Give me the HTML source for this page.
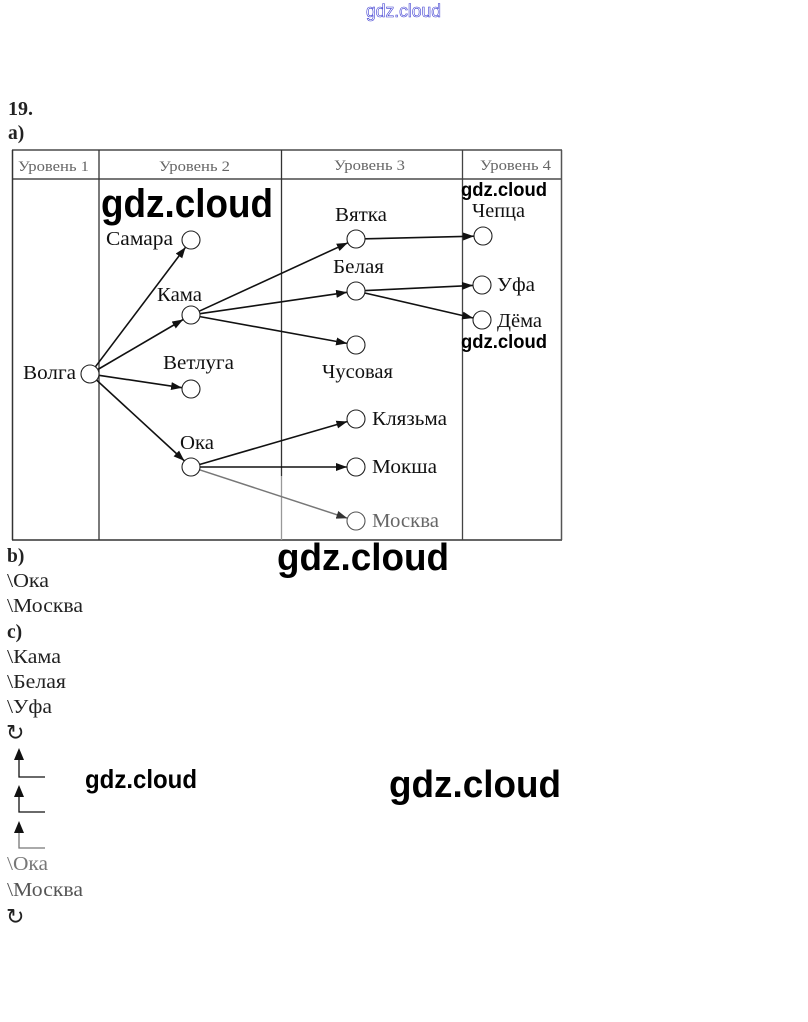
<!DOCTYPE html>
<html><head><meta charset="utf-8"><style>
html,body{margin:0;padding:0;background:#fff;}
svg{display:block;}
.lbl{font-family:"Liberation Serif","DejaVu Serif",serif;font-size:19.5px;fill:#111;}
.hdr{font-family:"Liberation Serif","DejaVu Serif",serif;font-size:15px;fill:#666;}
.wm{font-family:"Liberation Sans","DejaVu Sans",sans-serif;font-weight:bold;fill:#000;}
.txt{font-family:"Liberation Serif","DejaVu Serif",serif;font-size:19.5px;fill:#222;}
.b{font-weight:bold;}
</style></head><body>
<svg width="808" height="1022" viewBox="0 0 808 1022" xmlns="http://www.w3.org/2000/svg">
<defs>
<marker id="ah" markerUnits="userSpaceOnUse" markerWidth="11" markerHeight="8" refX="11" refY="4" orient="auto">
<path d="M0,0 L11,4 L0,8 z" fill="#111"/>
</marker>
<marker id="ahg" markerUnits="userSpaceOnUse" markerWidth="11" markerHeight="8" refX="11" refY="4" orient="auto">
<path d="M0,0 L11,4 L0,8 z" fill="#333"/>
</marker>
</defs>
<rect width="808" height="1022" fill="#fff"/>

<!-- top watermark -->
<text x="366" y="17" font-family="Liberation Sans, DejaVu Sans, sans-serif" font-size="18" fill="#fff" stroke="#3a3ad0" stroke-width="0.6" textLength="75" lengthAdjust="spacingAndGlyphs">gdz.cloud</text>

<!-- heading -->
<text x="8" y="115" class="txt b" font-size="20" textLength="25" lengthAdjust="spacingAndGlyphs">19.</text>
<text x="8" y="139" class="txt b" font-size="20">a)</text>

<!-- table -->
<g fill="none">
<line x1="12" y1="150" x2="562" y2="150" stroke="#777" stroke-width="2"/>
<line x1="12" y1="179" x2="562" y2="179" stroke="#777" stroke-width="2"/>
<line x1="12" y1="540" x2="562" y2="540" stroke="#666" stroke-width="2"/>
<line x1="12.5" y1="150" x2="12.5" y2="540" stroke="#333" stroke-width="1.5"/>
<line x1="99" y1="150" x2="99" y2="540" stroke="#333" stroke-width="1.3"/>
<line x1="281.5" y1="150" x2="281.5" y2="476" stroke="#333" stroke-width="1.3"/>
<line x1="281.5" y1="476" x2="281.5" y2="540" stroke="#999" stroke-width="1.3"/>
<line x1="462.5" y1="150" x2="462.5" y2="540" stroke="#444" stroke-width="1.3"/>
<line x1="561.5" y1="150" x2="561.5" y2="540" stroke="#555" stroke-width="1.5"/>
</g>
<text x="18" y="171" class="hdr" textLength="71" lengthAdjust="spacingAndGlyphs">Уровень 1</text>
<text x="159" y="171" class="hdr" textLength="71" lengthAdjust="spacingAndGlyphs">Уровень 2</text>
<text x="334" y="170" class="hdr" textLength="71" lengthAdjust="spacingAndGlyphs">Уровень 3</text>
<text x="480" y="170" class="hdr" textLength="71" lengthAdjust="spacingAndGlyphs">Уровень 4</text>

<!-- edges -->
<g stroke="#111" stroke-width="1.6" marker-end="url(#ah)">
<line x1="95.4" y1="366.8" x2="185.6" y2="247.2"/>
<line x1="97.8" y1="369.5" x2="183.2" y2="319.5"/>
<line x1="98.9" y1="375.3" x2="182.1" y2="387.7"/>
<line x1="96.6" y1="380.1" x2="184.4" y2="460.9"/>
<line x1="199.2" y1="311.2" x2="347.8" y2="242.8"/>
<line x1="199.9" y1="313.7" x2="347.1" y2="292.3"/>
<line x1="199.9" y1="316.6" x2="347.1" y2="343.4"/>
<line x1="199.6" y1="464.5" x2="347.4" y2="421.5"/>
<line x1="200" y1="467" x2="347" y2="467"/>
<line x1="365" y1="238.8" x2="474" y2="236.2"/>
<line x1="365" y1="290.6" x2="473" y2="285.4"/>
<line x1="364.8" y1="293" x2="473.2" y2="318"/>
</g>
<line x1="199.6" y1="469.8" x2="347.4" y2="518.2" stroke="#777" stroke-width="1.5" marker-end="url(#ahg)"/>

<!-- nodes -->
<g fill="#fff" stroke="#222" stroke-width="1.1">
<circle cx="90" cy="374" r="9"/>
<circle cx="191" cy="240" r="9"/>
<circle cx="191" cy="315" r="9"/>
<circle cx="191" cy="389" r="9"/>
<circle cx="191" cy="467" r="9"/>
<circle cx="356" cy="239" r="9"/>
<circle cx="356" cy="291" r="9"/>
<circle cx="356" cy="345" r="9"/>
<circle cx="356" cy="419" r="9"/>
<circle cx="356" cy="467" r="9"/>
<circle cx="356" cy="521" r="9" stroke="#555"/>
<circle cx="483" cy="236" r="9"/>
<circle cx="482" cy="285" r="9"/>
<circle cx="482" cy="320" r="9"/>
</g>

<!-- labels -->
<text x="23" y="379" class="lbl" textLength="53" lengthAdjust="spacingAndGlyphs">Волга</text>
<text x="106" y="245" class="lbl" textLength="67" lengthAdjust="spacingAndGlyphs">Самара</text>
<text x="157" y="301" class="lbl" textLength="45" lengthAdjust="spacingAndGlyphs">Кама</text>
<text x="163" y="369" class="lbl" textLength="71" lengthAdjust="spacingAndGlyphs">Ветлуга</text>
<text x="180" y="449" class="lbl" textLength="34" lengthAdjust="spacingAndGlyphs">Ока</text>
<text x="335" y="221" class="lbl" textLength="52" lengthAdjust="spacingAndGlyphs">Вятка</text>
<text x="333" y="273" class="lbl" textLength="51" lengthAdjust="spacingAndGlyphs">Белая</text>
<text x="322" y="378" class="lbl" textLength="71" lengthAdjust="spacingAndGlyphs">Чусовая</text>
<text x="372" y="425" class="lbl" textLength="75" lengthAdjust="spacingAndGlyphs">Клязьма</text>
<text x="372" y="473" class="lbl" textLength="65" lengthAdjust="spacingAndGlyphs">Мокша</text>
<text x="372" y="527" class="lbl" style="fill:#666" textLength="67" lengthAdjust="spacingAndGlyphs">Москва</text>
<text x="472" y="217" class="lbl" textLength="53" lengthAdjust="spacingAndGlyphs">Чепца</text>
<text x="497" y="291" class="lbl" textLength="38" lengthAdjust="spacingAndGlyphs">Уфа</text>
<text x="497" y="327" class="lbl" textLength="45" lengthAdjust="spacingAndGlyphs">Дёма</text>

<!-- answers -->
<text x="7" y="562" class="txt b" font-size="20">b)</text>
<text x="7" y="587" class="txt" textLength="42" lengthAdjust="spacingAndGlyphs">\Ока</text>
<text x="7" y="612" class="txt" textLength="76" lengthAdjust="spacingAndGlyphs">\Москва</text>
<text x="7" y="638" class="txt b" font-size="20">c)</text>
<text x="7" y="663" class="txt" textLength="54" lengthAdjust="spacingAndGlyphs">\Кама</text>
<text x="7" y="688" class="txt" textLength="59" lengthAdjust="spacingAndGlyphs">\Белая</text>
<text x="7" y="713" class="txt" textLength="45" lengthAdjust="spacingAndGlyphs">\Уфа</text>
<text x="6" y="740" font-family="DejaVu Sans, sans-serif" font-size="22" fill="#222">↻</text>

<g stroke="#111" stroke-width="1.3" fill="none">
<polyline points="19,758 19,777 45,777"/>
<polyline points="19,795 19,812 45,812"/>
<polyline points="19,831 19,848 45,848" stroke="#777"/>
</g>
<g fill="#111">
<path d="M19,748 L24,760 L14,760 z"/>
<path d="M19,785 L24,797 L14,797 z"/>
<path d="M19,821 L24,833 L14,833 z"/>
</g>

<text x="7" y="870" class="txt" style="fill:#777" textLength="41" lengthAdjust="spacingAndGlyphs">\Ока</text>
<text x="7" y="896" class="txt" style="fill:#555" textLength="76" lengthAdjust="spacingAndGlyphs">\Москва</text>
<text x="6" y="924" font-family="DejaVu Sans, sans-serif" font-size="22" fill="#222">↻</text>

<!-- watermarks -->
<text x="101" y="217" class="wm" font-size="40" textLength="172" lengthAdjust="spacingAndGlyphs">gdz.cloud</text>
<text x="461" y="196" class="wm" font-size="19" textLength="86" lengthAdjust="spacingAndGlyphs">gdz.cloud</text>
<text x="461" y="348" class="wm" font-size="19" textLength="86" lengthAdjust="spacingAndGlyphs">gdz.cloud</text>
<text x="277" y="570" class="wm" font-size="38" textLength="172" lengthAdjust="spacingAndGlyphs">gdz.cloud</text>
<text x="85" y="788" class="wm" font-size="26" textLength="112" lengthAdjust="spacingAndGlyphs">gdz.cloud</text>
<text x="389" y="797" class="wm" font-size="38" textLength="172" lengthAdjust="spacingAndGlyphs">gdz.cloud</text>
</svg>
</body></html>
